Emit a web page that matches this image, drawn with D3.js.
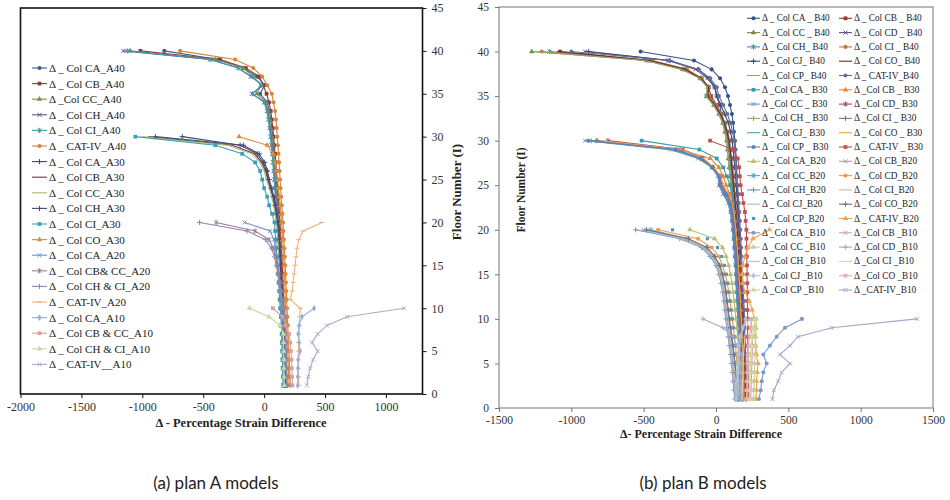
<!DOCTYPE html>
<html><head><meta charset="utf-8">
<script src="https://cdn.jsdelivr.net/npm/d3@7"></script>
<style>body{margin:0;background:#fff}</style>
</head><body><svg id="c" width="950" height="500"></svg>
<script>
// ---------- DATA (values listed from floor 1 upward) ----------
const floorTicks = [0,5,10,15,20,25,30,35,40,45];
const xTicksA = [-2000,-1500,-1000,-500,0,500,1000];
const xTicksB = [-1500,-1000,-500,0,500,1000,1500];

// Plan A
const CA_A40 = [175,173,171,169,167,165,163,161,159,157,154,151,148,145,142,139,135,131,127,123,119,114,109,104,99,94,88,82,76,70,62,54,44,25,-33,5,-57,-172,-375,-820];
const CB_A40 = [182,180,178,176,174,172,170,168,166,164,161,158,155,152,149,146,142,138,134,130,126,121,116,111,106,101,96,90,84,78,71,63,54,40,20,-8,-40,-150,-360,-1016];
const CC_A40 = [168,166,164,162,160,158,156,154,152,150,147,144,141,138,135,132,128,124,120,116,112,107,102,97,92,87,81,75,69,62,54,45,33,15,-60,-25,-90,-172,-400,-1100];
const CH_A40 = [162,160,158,156,154,152,150,148,146,144,141,138,135,132,129,126,122,118,114,110,106,101,96,91,86,81,75,69,63,56,48,38,26,5,-100,-10,-110,-213,-443,-1156];
const CI_A40 = [158,156,154,152,150,148,146,144,142,140,137,134,131,128,125,122,118,114,110,106,102,97,92,87,82,77,71,65,59,52,44,34,22,0,-95,-20,-100,-213,-443,-1120];
const CAT_A40 = [215,212,209,206,203,200,197,194,191,188,185,182,179,176,173,170,166,162,158,155,150,145,140,135,131,127,122,118,113,108,103,97,90,77,63,25,-16,-90,-238,-690];
const CA_A30 = [170,168,166,164,162,160,158,155,152,149,146,143,140,137,134,131,127,123,119,110,100,90,75,55,33,20,-8,-57,-197,-672];
const CB_A30 = [165,163,161,159,157,155,153,150,147,144,141,138,135,132,129,126,122,118,114,106,96,84,70,52,30,12,-20,-80,-260,-950];
const CC_A30 = [160,158,156,154,152,150,148,145,142,139,136,133,130,127,124,121,117,113,109,101,91,78,62,42,20,0,-35,-100,-300,-1000];
const CH_A30 = [174,172,170,168,166,164,162,159,156,153,150,147,144,141,138,135,131,127,123,115,105,94,80,62,42,28,5,-40,-170,-893];
const CI_A30 = [156,154,152,150,148,146,144,141,138,131,127,123,119,115,111,105,100,95,90,85,65,41,25,0,-16,-33,-74,-180,-400,-1057];
const CO_A30 = [205,202,199,196,193,190,187,184,181,178,175,172,169,166,163,160,156,152,148,144,138,132,126,118,110,100,90,75,25,-205];
const CA_A20 = [170,168,166,164,162,160,158,155,150,145,140,132,124,116,108,100,92,80,50,-160];
const CBCC_A20 = [190,188,186,184,182,180,178,175,170,160,150,140,130,120,110,95,75,40,-74,-394];
const CHCI_A20 = [185,183,181,179,177,175,173,170,165,155,145,135,125,113,100,85,60,10,-140,-530];
const CAT_A20 = [285,283,282,280,281,283,286,289,292,298,213,230,238,246,254,262,270,285,320,475];
const CA_A10 = [275,276,278,280,295,288,280,287,311,410];
const CBCC_A10 = [232,230,228,225,220,215,205,175,150,72];
const CHCI_A10 = [165,163,162,162,160,160,158,131,40,-120];
const CAT_A10 = [350,362,378,402,440,393,440,515,680,1150];

// Plan B
const CA_B40 = [195,193,191,189,187,185,183,181,179,177,175,173,171,169,167,165,163,161,159,158,156,154,152,150,148,145,142,139,135,131,124,118,110,97,83,62,28,-30,-152,-521];
const CB_B40 = [205,203,201,199,197,195,193,191,188,185,182,179,176,173,170,166,162,158,154,150,146,142,137,132,126,120,113,106,98,90,72,58,35,5,-35,-50,-100,-210,-450,-1078];
const CC_B40 = [180,178,176,174,172,170,168,166,164,162,159,156,153,150,147,144,141,138,134,130,126,121,116,110,104,98,92,86,80,74,62,48,20,-15,-65,-55,-110,-230,-480,-1274];
const CD_B40 = [190,188,186,184,182,180,178,176,174,172,169,166,163,160,157,154,151,148,144,140,136,132,127,122,117,112,106,100,94,88,78,60,38,25,5,-10,-60,-140,-330,-905];
const CH_B40 = [185,183,181,179,177,175,173,171,169,167,164,161,158,155,152,149,146,143,139,135,131,127,122,117,112,107,101,95,89,83,70,52,28,-10,-70,-50,-105,-220,-470,-1150];
const CI_B40 = [200,198,196,194,192,190,188,186,184,182,179,176,173,170,167,164,160,156,152,148,144,139,134,129,124,118,112,106,100,94,80,62,35,0,-45,-55,-100,-200,-440,-1205];
const CJ_B40 = [210,208,206,204,202,200,198,196,194,192,189,186,183,180,177,174,171,168,164,160,156,152,148,144,140,135,130,124,118,112,100,85,60,32,7,-7,-48,-124,-318,-880];
const CO_B40 = [198,196,194,192,190,188,186,184,182,180,177,174,171,168,165,162,158,154,150,146,142,137,132,127,122,116,110,104,97,90,76,58,30,-8,-55,-52,-105,-215,-460,-1100];
const CP_B40 = [176,174,172,170,168,166,164,162,160,158,155,152,149,146,143,140,137,134,130,126,122,117,112,107,102,96,90,84,78,72,60,45,18,-18,-70,-60,-115,-240,-490,-1250];
const CAT_B40 = [215,213,211,209,207,205,203,201,199,197,195,192,189,186,183,180,177,174,171,168,165,161,157,153,149,145,140,135,130,125,115,100,78,50,20,5,-40,-120,-330,-1000];
const CA_B30 = [175,173,171,169,167,165,163,161,159,157,155,153,151,149,147,145,143,141,138,135,130,125,118,110,97,75,50,5,-115,-514];
const CB_B30 = [190,188,186,184,182,180,178,176,173,170,167,164,161,158,154,150,146,142,137,132,126,118,108,95,70,50,20,-40,-250,-820];
const CC_B30 = [170,168,166,164,162,160,158,156,154,152,149,146,143,140,137,134,130,126,121,116,110,100,85,48,20,14,-30,-124,-318,-905];
const CD_B30 = [185,183,181,179,177,175,173,171,168,165,162,159,156,153,150,147,143,139,134,129,123,115,105,80,40,30,-20,-90,-228,-747];
const CH_B30 = [178,176,174,172,170,168,166,164,162,160,157,154,151,148,145,142,138,134,129,124,118,108,95,65,30,22,-25,-110,-290,-860];
const CI_B30 = [182,180,178,176,174,172,170,168,165,162,159,156,153,150,147,144,140,136,131,126,120,112,100,72,35,25,-22,-100,-270,-830];
const CJ_B30 = [168,166,164,162,160,158,156,154,152,150,147,144,141,138,135,132,128,124,119,114,108,98,84,55,25,18,-28,-115,-300,-870];
const CO_B30 = [195,193,191,189,187,185,183,181,178,175,172,169,166,163,159,155,151,147,142,137,131,123,112,88,48,35,-15,-85,-240,-800];
const CP_B30 = [172,170,168,166,164,162,160,158,156,154,151,148,145,142,139,136,132,128,123,118,112,104,92,62,28,20,-25,-105,-280,-880];
const CAT_B30 = [225,224,223,222,221,220,220,219,219,218,218,217,217,216,215,214,213,212,211,210,205,200,190,180,170,165,160,150,120,-41];
const CA_B20 = [180,176,172,168,164,160,155,150,144,138,132,125,118,110,100,88,70,45,-10,-180];
const CB_B20 = [140,134,128,123,117,110,102,95,86,78,70,62,55,45,30,10,-25,-80,-220,-500];
const CC_B20 = [150,144,138,133,127,120,112,105,96,88,80,72,65,55,42,22,-10,-65,-200,-450];
const CD_B20 = [165,160,155,150,145,140,134,128,120,112,104,96,88,78,64,45,20,-30,-124,-400];
const CH_B20 = [130,124,118,113,107,100,92,85,76,68,60,52,45,35,20,0,-40,-100,-250,-555];
const CI_B20 = [145,139,133,128,122,115,107,100,91,83,75,67,60,50,36,16,-18,-72,-210,-470];
const CJ_B20 = [135,129,123,118,112,105,97,90,81,73,65,57,50,40,25,5,-30,-90,-235,-520];
const CO_B20 = [155,149,143,138,132,125,117,110,101,93,85,77,70,60,46,26,-8,-60,-190,-480];
const CP_B20 = [160,155,150,146,142,137,131,125,118,111,104,97,90,82,72,58,40,10,-60,-300];
const CAT_B20 = [275,280,280,285,290,280,275,270,270,265,250,230,200,185,180,185,200,221,255,370];
const CA_B10 = [297,309,316,327,350,327,373,419,477,594];
const CB_B10 = [240,242,244,246,248,250,252,250,245,240];
const CC_B10 = [260,262,264,266,268,270,272,275,278,280];
const CD_B10 = [165,168,170,172,175,178,143,118,48,-90];
const CH_B10 = [150,152,154,156,158,160,165,175,190,215];
const CI_B10 = [180,182,184,186,188,190,195,200,210,225];
const CJ_B10 = [140,142,144,146,148,150,155,165,185,205];
const CO_B10 = [210,212,214,216,218,220,225,232,240,250];
const CP_B10 = [230,232,234,236,238,240,245,252,260,270];
const CAT_B10 = [390,400,430,454,511,442,511,567,800,1389];

const namesA = ["Δ _ Col CA_A40","Δ _ Col CB_A40","Δ _Col CC_A40","Δ _ Col CH_A40","Δ _ Col CI_A40","Δ _ CAT-IV_A40",
  "Δ _ Col CA_A30","Δ _ Col CB_A30","Δ _ Col CC_A30","Δ _ Col CH_A30","Δ _ Col CI_A30","Δ _ Col CO_A30",
  "Δ _ Col CA_A20","Δ _ Col CB& CC_A20","Δ _ Col CH & CI_A20","Δ _ CAT-IV_A20",
  "Δ _ Col CA_A10","Δ _ Col CB & CC_A10","Δ _ Col CH & CI_A10","Δ _ CAT-IV__A10"];
const valuesA = [CA_A40,CB_A40,CC_A40,CH_A40,CI_A40,CAT_A40,CA_A30,CB_A30,CC_A30,CH_A30,CI_A30,CO_A30,
  CA_A20,CBCC_A20,CHCI_A20,CAT_A20,CA_A10,CBCC_A10,CHCI_A10,CAT_A10];

const namesB = ["Δ _ Col CA _ B40","Δ _ Col CB _ B40","Δ _ Col CC _ B40","Δ _ Col CD _ B40","Δ _ Col CH_ B40","Δ _ Col CI _ B40",
  "Δ _ Col CJ_ B40","Δ _ Col CO_ B40","Δ _ Col CP_ B40","Δ _ CAT-IV_B40",
  "Δ _Col CA _ B30","Δ _Col CB _ B30","Δ _Col CC _ B30","Δ _Col CD_ B30","Δ _Col CH _ B30","Δ _Col CI _ B30",
  "Δ _ Col CJ_ B30","Δ _ Col CO _ B30","Δ _ Col CP _ B30","Δ _ CAT-IV _ B30",
  "Δ _ Col CA_B20","Δ _ Col CB_B20","Δ _ Col CC_B20","Δ _ Col CD_B20","Δ _ Col CH_B20","Δ _ Col CI_B20",
  "Δ _ Col CJ_B20","Δ _ Col CO_B20","Δ _ Col CP_B20","Δ _ CAT-IV_B20",
  "Δ _Col CA _B10","Δ _Col CB _B10","Δ _Col CC _B10","Δ _Col CD _B10","Δ _Col CH _B10","Δ _Col CI _B10",
  "Δ _Col CJ _B10","Δ _Col CO _B10","Δ _Col CP _B10","Δ _CAT-IV_B10"];
const valuesB = [CA_B40,CB_B40,CC_B40,CD_B40,CH_B40,CI_B40,CJ_B40,CO_B40,CP_B40,CAT_B40,
  CA_B30,CB_B30,CC_B30,CD_B30,CH_B30,CI_B30,CJ_B30,CO_B30,CP_B30,CAT_B30,
  CA_B20,CB_B20,CC_B20,CD_B20,CH_B20,CI_B20,CJ_B20,CO_B20,CP_B20,CAT_B20,
  CA_B10,CB_B10,CC_B10,CD_B10,CH_B10,CI_B10,CJ_B10,CO_B10,CP_B10,CAT_B10];

// ---------- STYLES ----------
const styleA = [
  ["#3b5e8e","circle"],["#8e3b3a","square"],["#7d8f4e","triangle"],["#5a5a8a","x"],["#3f9db5","star"],["#d4863a","circle"],
  ["#2f4f7a","plus"],["#7a3030","none"],["#a9bb72","none"],["#4e4a78","plus"],["#3aa0b8","square"],["#e08c3a","triangle"],
  ["#6f93c4","x"],["#a07898","star"],["#8a8aa8","plus"],["#f0b070","dash"],
  ["#92b0d8","diamond"],["#d9a0a0","square"],["#c6d8a0","triangle"],["#b0a8cc","x"]];
const styleB = [
  ["#34538a","circle"],["#8c3836","square"],["#7a8a45","triangle"],["#5d4f7e","x"],["#3a8fa6","star"],["#c07a35","circle"],
  ["#2e4c7a","plus"],["#6e2a28","none"],["#9aa86a","none"],["#6a6a9a","circle"],
  ["#3a9ab4","square"],["#e08a3a","triangle"],["#6a90c8","x"],["#a8454a","star"],["#9aaa60","plus"],["#7f7098","plus"],
  ["#48a0b8","none"],["#f0a050","none"],["#5a82b8","circle"],["#c0504d","square"],
  ["#b8c070","triangle"],["#a898b0","x"],["#4aacc6","star"],["#f59a40","circle"],["#7a96c0","plus"],["#d8b890","none"],
  ["#b0b8c0","none"],["#6a7090","plus"],["#4a9ac0","dotonly"],["#f5a050","triangle"],
  ["#7a9ac8","circle"],["#c8a0b8","x"],["#c8d090","triangle"],["#a8a8c8","plus"],["#a8c8e0","none"],["#f0c8a0","none"],
  ["#b0c0d8","diamond"],["#e0b0b0","square"],["#d0d8a0","triangle"],["#a0a8c8","x"]];

const svg = d3.select("#c");
const SERIF = "'Liberation Serif','Times New Roman',serif";

function markerPath(t){
  switch(t){
    case "circle": return d3.symbol(d3.symbolCircle,13)();
    case "dotonly": return d3.symbol(d3.symbolSquare,10)();
    case "square": return d3.symbol(d3.symbolSquare,14)();
    case "triangle": return d3.symbol(d3.symbolTriangle,13)();
    case "diamond": return d3.symbol(d3.symbolDiamond,13)();
    case "x": return "M-2,-2L2,2M-2,2L2,-2";
    case "star": return "M-2,-2L2,2M-2,2L2,-2M0,-2.6V2.6";
    case "plus": return "M0,-2.6V2.6M-2.6,0H2.6";
    case "dash": return "M-2.5,0H2.5";
    default: return null;
  }
}
const filled = t => ["circle","square","triangle","diamond","dotonly"].includes(t);

function drawMarker(g, t, color, x, y){
  const p = markerPath(t); if(!p) return;
  const m = g.append("path").attr("d",p).attr("transform",`translate(${x},${y})`);
  if(filled(t)) m.attr("fill",color).attr("stroke","none");
  else m.attr("fill","none").attr("stroke",color).attr("stroke-width",1);
}

function panel(opt){
  const x = d3.scaleLinear().domain(opt.xd).range(opt.xr);
  const y = d3.scaleLinear().domain([0,45]).range(opt.yr);
  const g = svg.append("g");
  const fmt = d => String(d);
  const ax = g.append("g").attr("transform",`translate(0,${opt.yr[0]})`)
    .call(d3.axisBottom(x).tickValues(opt.xt).tickFormat(fmt).tickSize(4).tickSizeOuter(0).tickPadding(4));
  const ay = g.append("g").attr("transform",`translate(${opt.yAxisRight?opt.xr[1]:opt.xr[0]},0)`)
    .call((opt.yAxisRight?d3.axisRight(y):d3.axisLeft(y)).tickValues(floorTicks).tickFormat(fmt).tickSize(4).tickSizeOuter(0).tickPadding(opt.yAxisRight?5:6));
  [ax,ay].forEach(a=>{
    a.select(".domain").remove();
    a.selectAll("line").attr("stroke",opt.border);
    a.selectAll("text").attr("font-family",SERIF).attr("font-size",opt.tickFont).attr("fill","#333");
  });
  const line = d3.line().x(d=>x(d.v)).y(d=>y(d.f));
  opt.values.forEach((vals,i)=>{
    const [color,mk] = opt.styles[i];
    const pts = vals.map((v,k)=>({v:v,f:k+1}));
    if(mk!=="dotonly")
      g.append("path").datum(pts).attr("d",line).attr("fill","none").attr("stroke",color).attr("stroke-width",1.1);
    pts.forEach(p=>drawMarker(g,mk,color,x(p.v),y(p.f)));
  });
  g.append("rect").attr("x",opt.xr[0]).attr("y",opt.yr[1]).attr("width",opt.xr[1]-opt.xr[0]).attr("height",opt.yr[0]-opt.yr[1])
    .attr("fill","none").attr("stroke",opt.border).attr("stroke-width",opt.borderW);
  opt.names.forEach((n,i)=>{
    const col = opt.legCols===2 ? i%2 : 0;
    const row = opt.legCols===2 ? Math.floor(i/2) : i;
    const lx = opt.legX[col], ly = opt.legY0 + row*opt.legStep;
    const [color,mk] = opt.styles[i];
    if(mk!=="dotonly")
      g.append("line").attr("x1",lx).attr("x2",lx+opt.legLen).attr("y1",ly).attr("y2",ly).attr("stroke",color).attr("stroke-width",1.1);
    drawMarker(g,mk,color,lx+opt.legLen/2,ly);
    g.append("text").attr("x",lx+opt.legLen+2).attr("y",ly).attr("dominant-baseline","central")
      .attr("font-family",SERIF).attr("font-size",opt.legFont).attr("fill","#222").text(n);
  });
  return {x,y,g};
}

panel({xd:[-2000,1300], xr:[20.5,422.5], yr:[394,8], xt:xTicksA, yAxisRight:true, border:"#111", borderW:1.6, tickFont:12,
  values:valuesA, styles:styleA, names:namesA, legCols:1, legX:[32], legY0:68, legStep:15.6, legLen:15, legFont:11});
panel({xd:[-1500,1500], xr:[499,933], yr:[408,7], xt:xTicksB, yAxisRight:false, border:"#777", borderW:1, tickFont:11.5,
  values:valuesB, styles:styleB, names:namesB, legCols:2, legX:[747,839], legY0:18.3, legStep:14.3, legLen:13, legFont:9.3});

svg.append("text").attr("x",241).attr("y",427).attr("text-anchor","middle").attr("font-family",SERIF)
  .attr("font-weight","bold").attr("font-size",12.5).attr("fill","#222").text("Δ  - Percentage  Strain Difference");
svg.append("text").attr("transform","translate(461,192) rotate(-90)").attr("text-anchor","middle").attr("font-family",SERIF)
  .attr("font-weight","bold").attr("font-size",13).attr("fill","#222").text("Floor Number (I)");
svg.append("text").attr("x",701).attr("y",438).attr("text-anchor","middle").attr("font-family",SERIF)
  .attr("font-weight","bold").attr("font-size",12).attr("fill","#222").text("Δ- Percentage Strain Difference");
svg.append("text").attr("transform","translate(525,190) rotate(-90)").attr("text-anchor","middle").attr("font-family",SERIF)
  .attr("font-weight","bold").attr("font-size",11.5).attr("fill","#222").text("Floor Number (I)");
svg.append("text").attr("x",216).attr("y",489).attr("text-anchor","middle").attr("font-family","Lato, 'Open Sans', sans-serif")
  .attr("font-size",17).attr("fill","#222").text("(a) plan A models");
svg.append("text").attr("x",703).attr("y",489).attr("text-anchor","middle").attr("font-family","Lato, 'Open Sans', sans-serif")
  .attr("font-size",17).attr("fill","#222").text("(b) plan B models");
</script></body></html>
